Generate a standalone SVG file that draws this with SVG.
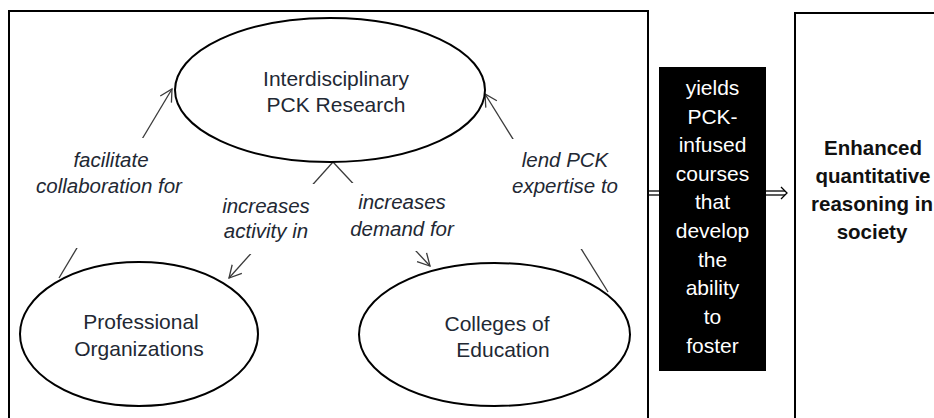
<svg xmlns="http://www.w3.org/2000/svg" width="934" height="418" viewBox="0 0 934 418">
  <defs>
    <style>
      .frame { fill: #ffffff; stroke: #000000; stroke-width: 2; }
      .node { fill: #ffffff; stroke: #000000; stroke-width: 2; }
      .label { font-family: "Liberation Sans", Arial, sans-serif; font-size: 21px; fill: #222833; text-anchor: middle; }
      .edge-label { font-family: "Liberation Sans", Arial, sans-serif; font-size: 20.5px; font-style: italic; fill: #222833; text-anchor: middle; }
      .edge { fill: none; stroke: #3a3a3a; stroke-width: 1.3; marker-end: url(#open-arrow); }
      .label-bg { fill: #ffffff; }
      .dbl { fill: none; stroke: #000000; stroke-width: 1.3; }
      .band { fill: #000000; }
      .band-text { font-family: "Liberation Sans", Arial, sans-serif; font-size: 21px; fill: #ffffff; text-anchor: middle; }
      .outcome-text { font-family: "Liberation Sans", Arial, sans-serif; font-size: 20.5px; font-weight: bold; fill: #111111; text-anchor: middle; }
    </style>
    <marker id="open-arrow" viewBox="-14 -8 16 16" markerWidth="16" markerHeight="16" refX="0" refY="0" markerUnits="userSpaceOnUse" orient="auto">
      <path d="M-12,-6.5 L0,0 L-12,6.5" fill="none" stroke="#3a3a3a" stroke-width="1.3"/>
    </marker>
  </defs>

  <rect width="934" height="418" fill="#ffffff"/>

  <!-- outer frames -->
  <g id="system-frame">
    <rect class="frame" x="9" y="11" width="639" height="430"/>
  </g>
  <g id="outcome">
    <rect class="frame" x="795" y="13" width="200" height="430"/>
    <text class="outcome-text" x="873" y="155">Enhanced</text>
    <text class="outcome-text" x="873" y="183">quantitative</text>
    <text class="outcome-text" x="872" y="211">reasoning in</text>
    <text class="outcome-text" x="872" y="239">society</text>
  </g>

  <!-- connectors -->
  <g id="connectors">
    <g id="edge-facilitate">
      <line class="edge" x1="59" y1="278" x2="172" y2="89"/>
      <rect class="label-bg" x="28" y="138" width="162" height="110"/>
      <text class="edge-label" x="111" y="167">facilitate</text>
      <text class="edge-label" x="109" y="193">collaboration for</text>
    </g>
    <g id="edge-lend">
      <line class="edge" x1="608" y1="292" x2="485" y2="94"/>
      <rect class="label-bg" x="505" y="139" width="120" height="110"/>
      <text class="edge-label" x="565" y="167">lend PCK</text>
      <text class="edge-label" x="565" y="193">expertise to</text>
    </g>
    <g id="edge-activity">
      <line class="edge" x1="333" y1="162" x2="229" y2="278"/>
      <rect class="label-bg" x="215" y="184" width="100" height="70"/>
      <text class="edge-label" x="266" y="213">increases</text>
      <text class="edge-label" x="266" y="238">activity in</text>
    </g>
    <g id="edge-demand">
      <line class="edge" x1="333" y1="162" x2="430" y2="266"/>
      <rect class="label-bg" x="346" y="183" width="114" height="68"/>
      <text class="edge-label" x="402" y="209">increases</text>
      <text class="edge-label" x="402" y="236">demand for</text>
    </g>
    <g id="edge-yields">
      <line class="dbl" x1="648" y1="191" x2="662" y2="191"/>
      <line class="dbl" x1="648" y1="195" x2="662" y2="195"/>
    </g>
    <g id="edge-outcome">
      <line class="dbl" x1="766" y1="191" x2="785" y2="191"/>
      <line class="dbl" x1="766" y1="195" x2="785" y2="195"/>
      <polyline class="dbl" points="781,187 787,193 781,199"/>
    </g>
  </g>

  <!-- nodes -->
  <g id="pck-research">
    <ellipse class="node" cx="330" cy="90" rx="155" ry="72"/>
    <text class="label" x="336" y="86">Interdisciplinary</text>
    <text class="label" x="336" y="112">PCK Research</text>
  </g>
  <g id="professional-organizations">
    <ellipse class="node" cx="139" cy="334" rx="119" ry="72"/>
    <text class="label" x="141" y="329">Professional</text>
    <text class="label" x="139" y="356">Organizations</text>
  </g>
  <g id="colleges-of-education">
    <ellipse class="node" cx="494.5" cy="334.5" rx="135.5" ry="71.5"/>
    <text class="label" x="497" y="331">Colleges of</text>
    <text class="label" x="503" y="357">Education</text>
  </g>
  <g id="yields-band">
    <rect class="band" x="659" y="67" width="107" height="304"/>
    <text class="band-text" x="712.5" y="95">yields</text>
    <text class="band-text" x="712.5" y="124">PCK-</text>
    <text class="band-text" x="712.5" y="152">infused</text>
    <text class="band-text" x="712.5" y="181">courses</text>
    <text class="band-text" x="712.5" y="209">that</text>
    <text class="band-text" x="712.5" y="238">develop</text>
    <text class="band-text" x="712.5" y="267">the</text>
    <text class="band-text" x="712.5" y="295">ability</text>
    <text class="band-text" x="712.5" y="324">to</text>
    <text class="band-text" x="712.5" y="353">foster</text>
  </g>
</svg>
